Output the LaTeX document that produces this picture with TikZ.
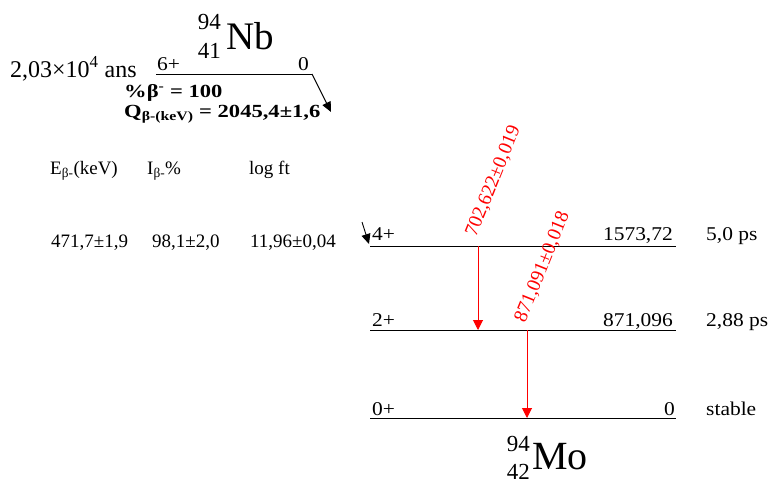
\documentclass[tikz,border=0pt]{standalone}
\usepackage{fontspec}
\setmainfont{Liberation Serif}
\newfontfamily\widefont{Liberation Serif}[FakeStretch=1.1]
\newfontfamily\boldwide{Liberation Serif}[FakeStretch=1.22]
\usetikzlibrary{arrows.meta}

\begin{document}
\begin{tikzpicture}[x=1pt, y=-1pt, inner sep=0pt,
  lvl/.style={line width=1pt},
  lab/.style={font=\widefont\fontsize{19.5}{20}\selectfont},
  tab/.style={anchor=base west, font=\fontsize{19}{20}\selectfont},
  feed/.style={line width=0.9pt, -{Triangle[length=10pt,width=9pt]}},
  gam/.style={red, line width=1pt, -{Triangle[length=10pt,width=10pt]}},
  glab/.style={red, anchor=base west, rotate=68, font=\fontsize{19.5}{20}\selectfont}]
  \useasboundingbox (0,0) rectangle (769,485);
  % parent 94Nb
  \node[anchor=base west, font=\fontsize{39}{39}\selectfont] (nb) at (226,49) {Nb};
  \node[anchor=base east, font=\fontsize{23}{23}\selectfont] (nbA) at (221,29) {94};
  \node[anchor=base east, font=\fontsize{23}{23}\selectfont] (nbZ) at (221,58) {41};
  \node[anchor=base west, font=\fontsize{24}{24}\selectfont] (thalf) at (10,77) {2,03×10\textsuperscript{4} ans};
  \coordinate (p0) at (156,74); \coordinate (p1) at (312,74); \coordinate (pfeed) at (331,112);
  \draw[lvl] (p0) -- (p1); \draw[feed] (p1) -- (pfeed);
  \node[lab, anchor=base west] (pj) at (157,70) {6+}; \node[lab, anchor=base east] (pe) at (309,70) {0};
  \node[anchor=base west, font=\boldwide\bfseries\fontsize{18.5}{19}\selectfont] (pct) at (124,97) {\%β\textsuperscript{-} = 100};
  \node[anchor=base west, font=\boldwide\bfseries\fontsize{18.5}{19}\selectfont] (qval) at (124,117) {Q\textsubscript{β-(keV)} = 2045,4±1,6};
  % beta table
  \node[tab] (eh) at (50,174) {E\textsubscript{β-}(keV)}; \node[tab] (ih) at (147,174) {I\textsubscript{β-}\%};
  \node[tab] (lh) at (249,174) {log ft};
  \node[tab] (ev) at (51,247) {471,7±1,9}; \node[tab] (iv) at (152,247) {98,1±2,0};
  \node[tab] (lv) at (250,247) {11,96±0,04};
  % daughter levels
  \coordinate (l4a) at (370,246); \coordinate (l4b) at (676,246);
  \coordinate (l2a) at (370,330); \coordinate (l2b) at (676,330);
  \coordinate (l0a) at (370,418); \coordinate (l0b) at (676,418);
  \draw[lvl] (l4a) -- (l4b); \draw[lvl] (l2a) -- (l2b); \draw[lvl] (l0a) -- (l0b);
  \node[lab, anchor=base west] (j4) at (372,240) {4+}; \node[lab, anchor=base east] (e4) at (673,240) {1573,72};
  \node[lab, anchor=base west] (t4) at (706,240) {5,0 ps};
  \node[lab, anchor=base west] (j2) at (372,326) {2+}; \node[lab, anchor=base east] (e2) at (673,326) {871,096};
  \node[lab, anchor=base west] (t2) at (706,326) {2,88 ps};
  \node[lab, anchor=base west] (j0) at (372,415) {0+}; \node[lab, anchor=base east] (e0) at (675,415) {0};
  \node[lab, anchor=base west] (t0) at (706,415) {stable};
  \coordinate (f4) at (362,222); \coordinate (f4tip) at (369,244);
  \draw[feed] (f4) -- (f4tip);
  % gammas
  \coordinate (g1a) at (478,246); \coordinate (g1b) at (478,330);
  \coordinate (g2a) at (527,330); \coordinate (g2b) at (527,418);
  \draw[gam] (g1a) -- (g1b); \draw[gam] (g2a) -- (g2b);
  \node[glab] (g1) at (476,238) {702,622±0,019};
  \node[glab] (g2) at (525,324) {871,091±0,018};
  % daughter 94Mo
  \node[anchor=base west, font=\fontsize{40}{40}\selectfont] (mo) at (532,469) {Mo};
  \node[anchor=base east, font=\fontsize{23}{23}\selectfont] (moA) at (530,451) {94};
  \node[anchor=base east, font=\fontsize{23}{23}\selectfont] (moZ) at (530,479) {42};
\end{tikzpicture}
\end{document}
